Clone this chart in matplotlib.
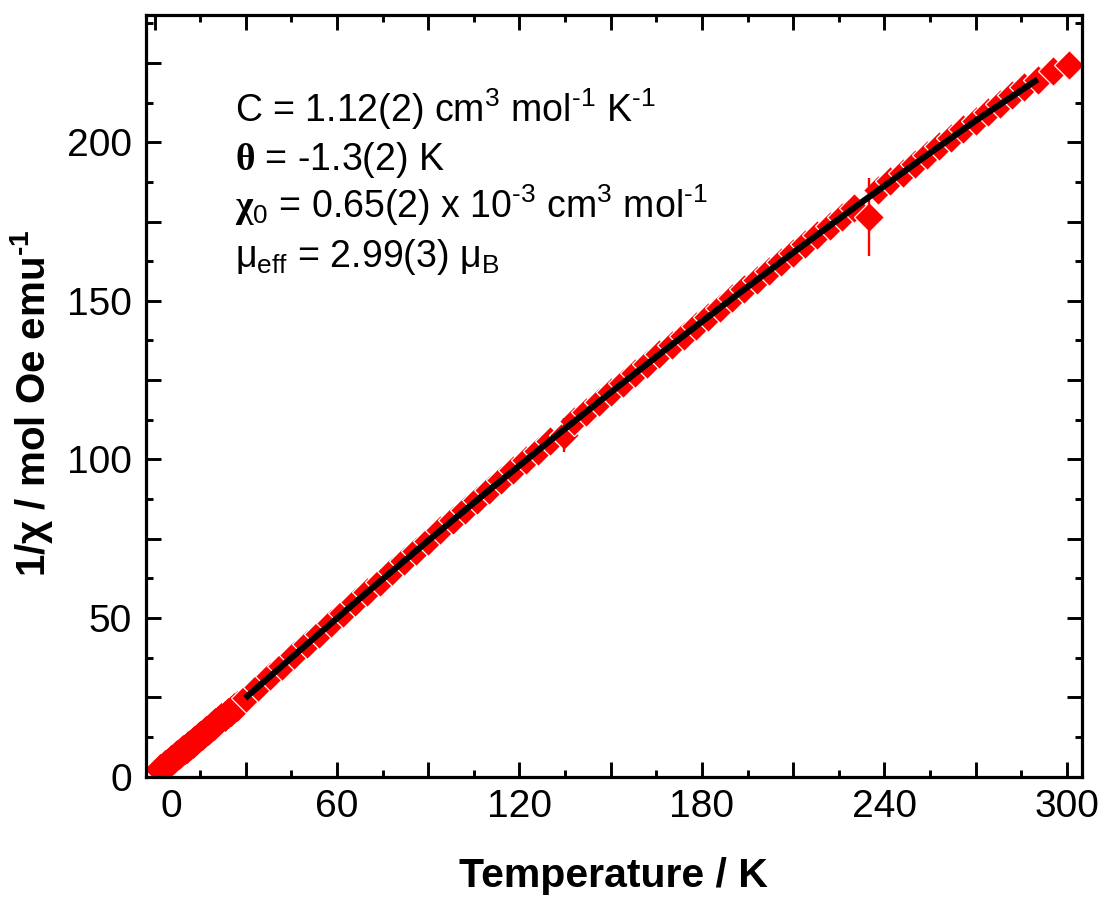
import matplotlib
matplotlib.use("Agg")
import matplotlib.pyplot as plt
from matplotlib.ticker import FixedLocator, MultipleLocator, FixedFormatter
from matplotlib.transforms import ScaledTranslation

plt.rcParams['font.family'] = ['Liberation Sans', 'DejaVu Sans']
plt.rcParams['mathtext.fontset'] = 'custom'
plt.rcParams['mathtext.rm'] = 'Liberation Sans'
plt.rcParams['mathtext.it'] = 'Liberation Sans:italic'
plt.rcParams['mathtext.bf'] = 'Liberation Sans:bold'
plt.rcParams['mathtext.sf'] = 'Liberation Serif:bold'
plt.rcParams['mathtext.default'] = 'regular'

# ---- data ----
# dense low-temperature part
temperature_low = [1.9, 2.2, 2.6, 3.0, 3.5, 4.0, 4.5, 5.0, 5.5, 6.0, 6.5, 7.0, 7.5, 8.0, 8.5,
                   9.0, 9.5, 10.0, 10.5, 11.0, 11.5, 12.0, 12.5, 13.0, 13.5, 14.0, 14.5, 15.0,
                   15.5, 16.0, 16.5, 17.0, 17.5, 18.0, 18.5, 19.0, 19.5, 20.0, 21.0, 22.0,
                   23.0, 24.0, 25.0, 26.0, 27.0]
inv_chi_low = [2.30, 2.54, 2.86, 3.18, 3.58, 3.98, 4.38, 4.78, 5.18, 5.58, 5.98, 6.38, 6.78,
               7.18, 7.58, 7.98, 8.38, 8.78, 9.18, 9.58, 9.98, 10.38, 10.78, 11.18, 11.58,
               11.98, 12.38, 12.78, 13.18, 13.58, 13.98, 14.38, 14.78, 15.18, 15.58, 15.98,
               16.38, 16.78, 17.58, 18.38, 19.18, 19.98, 20.78, 21.58, 22.38]
# sparser higher-temperature part
temperature = [30, 34, 38, 42, 46, 50, 54, 58, 62, 66, 70, 74, 78, 82, 86, 90, 94, 98,
               102, 106, 110, 114, 118, 122, 126, 130, 134.5, 138, 142, 146, 150, 154,
               158, 162, 166, 170, 174, 178, 182, 186, 190, 194, 198, 202, 206, 210, 214,
               218, 222, 226, 230, 235, 238, 242, 246, 250, 254, 258, 262, 266, 270, 274,
               278, 282, 286, 290.5, 295.4, 300.6]
inv_chi = [24.80, 28.21, 31.60, 34.97, 38.33, 41.68, 45.02, 48.34, 51.64, 54.94, 58.22, 61.49,
           64.74, 67.98, 71.21, 74.42, 77.62, 80.81, 83.99, 87.15, 90.30, 93.44, 96.57, 99.68,
           102.78, 105.87, 107.7, 112.01, 115.06, 118.10, 121.13, 124.15, 127.15, 130.15,
           133.13, 136.10, 139.06, 142.00, 144.94, 147.86, 150.78, 153.68, 156.57, 159.45,
           162.32, 165.18, 168.02, 170.86, 173.69, 176.50, 179.31, 176.5, 184.88, 187.66,
           190.42, 193.17, 195.92, 198.65, 201.37, 204.08, 206.78, 209.48, 212.16, 214.83,
           217.49, 219.6, 222.3, 224.4]

# points with visible error bars
err_temperature = [4.0, 134.5, 235.0]
err_inv_chi = [3.98, 107.7, 176.5]
err_size = [3.9, 5.5, 12.3]

# Curie-Weiss fit curve
fit_temperature = [29.8, 50, 70, 90, 110, 130, 150, 170, 190, 210, 230, 250, 270, 290.4]
fit_inv_chi = [24.8, 41.68, 58.22, 74.42, 90.30, 105.87, 121.13, 136.10, 150.78,
               165.18, 179.31, 193.17, 206.78, 219.8]

x_major = [0, 30, 60, 90, 120, 150, 180, 210, 240, 270, 300]
x_labels = ['0', '', '60', '', '120', '', '180', '', '240', '', '300']
y_major = [0, 25, 50, 75, 100, 125, 150, 175, 200, 225]
y_labels = ['0', '', '50', '', '100', '', '150', '', '200', '']

annotation_lines = [
    r"C = 1.12(2) cm$^{3}$ mol$^{‐1}$ K$^{‐1}$",
    r"$\mathsf{θ}$ = -1.3(2) K",
    r"$\mathsf{χ}_{0}$ = 0.65(2) x 10$^{‐3}$ cm$^{3}$ mol$^{‐1}$",
    r"μ$_{eff}$ = 2.99(3) μ$_{B}$",
]

# ---- figure ----
W, H = 1108, 897
fig = plt.figure(figsize=(W / 100, H / 100), dpi=100)
ax = fig.add_axes([146 / W, 1 - 776.7 / H, (1082 - 146) / W, (776.7 - 15) / H])

ax.errorbar(err_temperature, err_inv_chi, yerr=err_size, fmt='none',
            ecolor='#ff0000', elinewidth=1.7, capsize=0, zorder=3)
ax.plot(temperature_low, inv_chi_low, linestyle='none', marker='D', markersize=15.5,
        markerfacecolor='#ff0000', markeredgecolor='#ff0000', markeredgewidth=0.5,
        zorder=2)
ax.plot(temperature, inv_chi, linestyle='none', marker='D', markersize=15.5,
        markerfacecolor='#ff0000', markeredgecolor='white', markeredgewidth=0.9,
        zorder=2)
ax.plot(fit_temperature, fit_inv_chi, color='black', linewidth=4.5,
        solid_capstyle='butt', zorder=4)

ax.set_xlim(-2.83, 305.0)
ax.set_ylim(0, 240.1)

ax.xaxis.set_major_locator(FixedLocator(x_major))
ax.xaxis.set_major_formatter(FixedFormatter(x_labels))
ax.xaxis.set_minor_locator(MultipleLocator(15))
ax.yaxis.set_major_locator(FixedLocator(y_major))
ax.yaxis.set_major_formatter(FixedFormatter(y_labels))
ax.yaxis.set_minor_locator(MultipleLocator(12.5))

for s in ax.spines.values():
    s.set_linewidth(2.3)

ax.tick_params(which='both', direction='in', top=True, right=True, width=2.1)
ax.tick_params(which='major', length=10.8, labelsize=28)
ax.tick_params(which='minor', length=5.2)
ax.tick_params(axis='x', which='major', pad=9)
ax.tick_params(axis='y', which='major', pad=10)

# shift the "0" x label to the right as in the reference
ticks = ax.xaxis.get_major_ticks()
lab0 = ticks[0].label1
lab0.set_transform(lab0.get_transform() + ScaledTranslation(17 / 100, 0, fig.dpi_scale_trans))

fig.text(613 / W, 1 - 886.7 / H, "Temperature / K", ha='center', va='baseline',
         fontsize=29.5, fontweight='bold')
fig.text(45 / W, 1 - 403 / H, r"1/χ / mol Oe emu$^{\mathbf{‐1}}$", rotation=90,
         rotation_mode='anchor', ha='center', va='baseline', fontsize=29,
         fontweight='bold')

baselines = [121.7, 170.0, 218.3, 266.7]
for txt, by in zip(annotation_lines, baselines):
    fig.text(235 / W, 1 - by / H, txt, ha='left', va='baseline', fontsize=27)

fig.savefig("out.png", dpi=100)
